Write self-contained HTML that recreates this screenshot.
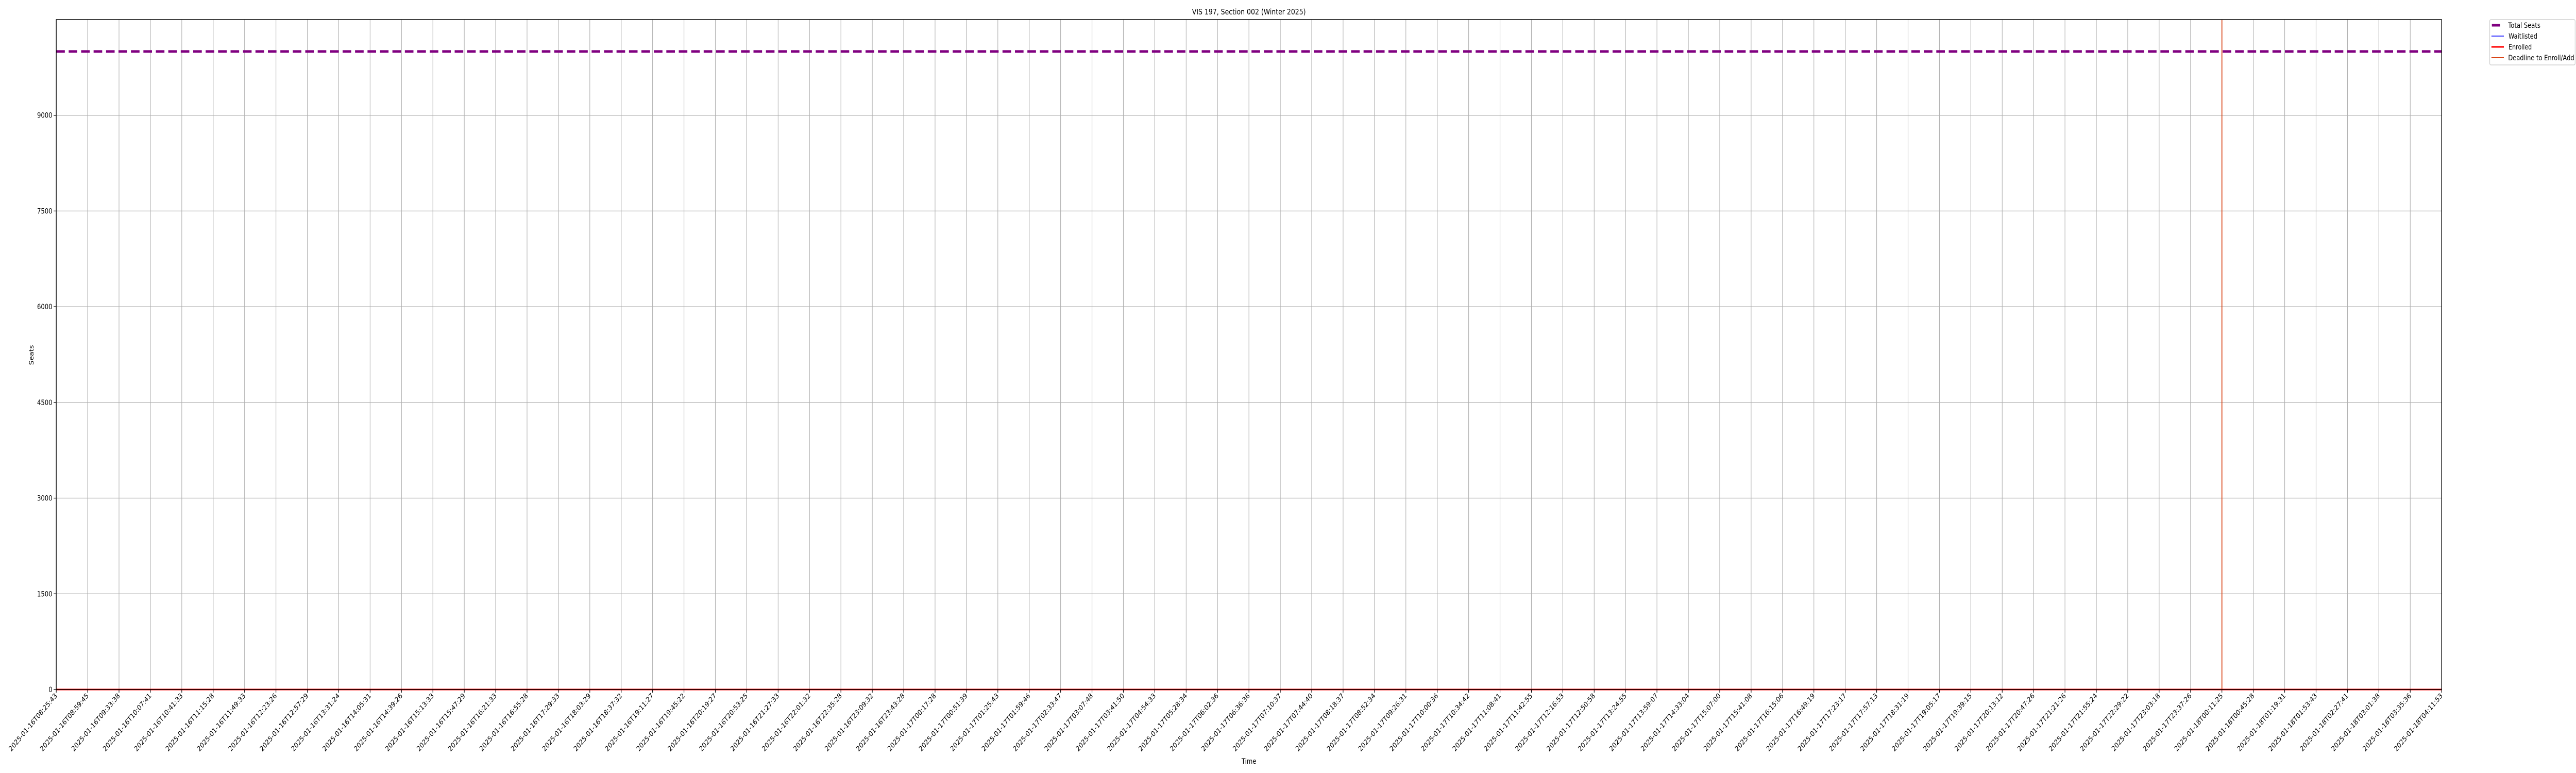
<!DOCTYPE html>
<html><head><meta charset="utf-8"><style>
html,body{margin:0;padding:0;background:#fff;width:100%;height:100%;overflow:hidden;}
svg{display:block;width:100vw;height:100vh;font-family:"DejaVu Sans","Liberation Sans",sans-serif;}
</style></head><body>
<svg id="chart" viewBox="0 0 6000 1500" preserveAspectRatio="none" xmlns="http://www.w3.org/2000/svg">
<text x="2909" y="28" font-size="15" text-anchor="middle">VIS 197, Section 002 (Winter 2025)</text>
<g id="grid"></g>
<g id="series"></g>
<g id="axes"></g>
<text x="78" y="689" font-size="14" text-anchor="middle" transform="rotate(-90 78 689)">Seats</text>
<text x="2909" y="1482" font-size="14" text-anchor="middle">Time</text>
<g>
<rect x="5799" y="38" width="199" height="88" rx="3" fill="#fff" stroke="#d0d0d0" stroke-width="1.5"/>
<g><line x1="5804" y1="49" x2="5823" y2="49" stroke="#800080" stroke-width="5"/><text x="5842" y="54" font-size="14" textLength="75" lengthAdjust="spacingAndGlyphs">Total Seats</text></g>
<g><line x1="5803" y1="70" x2="5832" y2="70" stroke="#0000ff" stroke-width="1.5"/><text x="5843" y="75" font-size="14" textLength="67" lengthAdjust="spacingAndGlyphs">Waitlisted</text></g>
<g><line x1="5803" y1="91" x2="5832" y2="91" stroke="#ff0000" stroke-width="3"/><text x="5843" y="96" font-size="14" textLength="54" lengthAdjust="spacingAndGlyphs">Enrolled</text></g>
<g><line x1="5803" y1="112" x2="5832" y2="112" stroke="#d84315" stroke-width="2"/><text x="5842" y="117" font-size="14" textLength="154" lengthAdjust="spacingAndGlyphs">Deadline to Enroll/Add</text></g>
</g>
</svg>
<script>
const timeLabels = ["2025-01-16T08:25:43","2025-01-16T08:59:45","2025-01-16T09:33:38","2025-01-16T10:07:41","2025-01-16T10:41:33","2025-01-16T11:15:28","2025-01-16T11:49:33","2025-01-16T12:23:26","2025-01-16T12:57:29","2025-01-16T13:31:24","2025-01-16T14:05:31","2025-01-16T14:39:26","2025-01-16T15:13:33","2025-01-16T15:47:29","2025-01-16T16:21:33","2025-01-16T16:55:28","2025-01-16T17:29:33","2025-01-16T18:03:29","2025-01-16T18:37:32","2025-01-16T19:11:27","2025-01-16T19:45:22","2025-01-16T20:19:27","2025-01-16T20:53:25","2025-01-16T21:27:33","2025-01-16T22:01:32","2025-01-16T22:35:28","2025-01-16T23:09:32","2025-01-16T23:43:28","2025-01-17T00:17:28","2025-01-17T00:51:39","2025-01-17T01:25:43","2025-01-17T01:59:46","2025-01-17T02:33:47","2025-01-17T03:07:48","2025-01-17T03:41:50","2025-01-17T04:54:33","2025-01-17T05:28:34","2025-01-17T06:02:36","2025-01-17T06:36:36","2025-01-17T07:10:37","2025-01-17T07:44:40","2025-01-17T08:18:37","2025-01-17T08:52:34","2025-01-17T09:26:31","2025-01-17T10:00:36","2025-01-17T10:34:42","2025-01-17T11:08:41","2025-01-17T11:42:55","2025-01-17T12:16:53","2025-01-17T12:50:58","2025-01-17T13:24:55","2025-01-17T13:59:07","2025-01-17T14:33:04","2025-01-17T15:07:00","2025-01-17T15:41:08","2025-01-17T16:15:06","2025-01-17T16:49:19","2025-01-17T17:23:17","2025-01-17T17:57:13","2025-01-17T18:31:19","2025-01-17T19:05:17","2025-01-17T19:39:15","2025-01-17T20:13:12","2025-01-17T20:47:26","2025-01-17T21:21:26","2025-01-17T21:55:24","2025-01-17T22:29:22","2025-01-17T23:03:18","2025-01-17T23:37:26","2025-01-18T00:11:25","2025-01-18T00:45:28","2025-01-18T01:19:31","2025-01-18T01:53:43","2025-01-18T02:27:41","2025-01-18T03:01:38","2025-01-18T03:35:36","2025-01-18T04:11:53"];
const totalSeats = timeLabels.map(() => 10000);
const waitlisted = timeLabels.map(() => 0);
const enrolled = timeLabels.map(() => 0);
const deadlineLabel = "2025-01-18T00:11:25";
const yTicks = [0,1500,3000,4500,6000,7500,9000];
const yMax = 10500;

const NS = "http://www.w3.org/2000/svg";
const L = 131, R = 5687, T = 38, B = 1338;
function xPos(i){ return L + i * (R - L) / (timeLabels.length - 1); }
function yPos(v){ return B - v * (B - T) / yMax; }
function mk(parent, tag, attrs){ const e = document.createElementNS(NS, tag); for (const k in attrs) e.setAttribute(k, attrs[k]); parent.appendChild(e); return e; }
const grid = document.getElementById('grid'), series = document.getElementById('series'), axes = document.getElementById('axes');

timeLabels.forEach((lab, i) => {
  const x = xPos(i);
  const g = mk(grid, 'line', {x1:x, y1:T, x2:x, y2:B, stroke:'#b0b0b0', 'stroke-width':1.3});
  
  
  const tk = mk(axes, 'line', {x1:x, y1:B, x2:x, y2:B+6, stroke:'#000', 'stroke-width':1.3});
  
  
  const t = mk(axes, 'text', {x:x+3, y:B+13, 'font-size':14, 'text-anchor':'end', transform:`rotate(-45 ${x+3} ${B+13})`});
  t.textContent = lab;
  
  
});
yTicks.forEach(v => {
  const y = yPos(v);
  const g = mk(grid, 'line', {x1:L, y1:y, x2:R, y2:y, stroke:'#b0b0b0', 'stroke-width':1.3});
  
  
  const tk = mk(axes, 'line', {x1:L-6, y1:y, x2:L, y2:y, stroke:'#000', 'stroke-width':1.3});
  
  
  const t = mk(axes, 'text', {x:L-9, y:y+5, 'font-size':14, 'text-anchor':'end'});
  t.textContent = v;
  
  
});
function pts(arr){ return arr.map((v,i)=>xPos(i)+','+yPos(v)).join(' '); }
const ts = mk(series, 'polyline', {points:pts(totalSeats), fill:'none', stroke:'#800080', 'stroke-width':5, 'stroke-dasharray':'20 9'});


const wl = mk(series, 'polyline', {points:pts(waitlisted), fill:'none', stroke:'#0000ff', 'stroke-width':1.5});


const en = mk(series, 'polyline', {points:pts(enrolled), fill:'none', stroke:'#ff0000', 'stroke-width':3});


const dx = xPos(timeLabels.indexOf(deadlineLabel));
const dl = mk(series, 'line', {x1:dx, y1:T, x2:dx, y2:B, stroke:'#d84315', 'stroke-width':2});


const frame = mk(axes, 'rect', {x:L, y:T, width:R-L, height:B-T, fill:'none', stroke:'#000', 'stroke-width':1.5});


</script>
</body></html>
